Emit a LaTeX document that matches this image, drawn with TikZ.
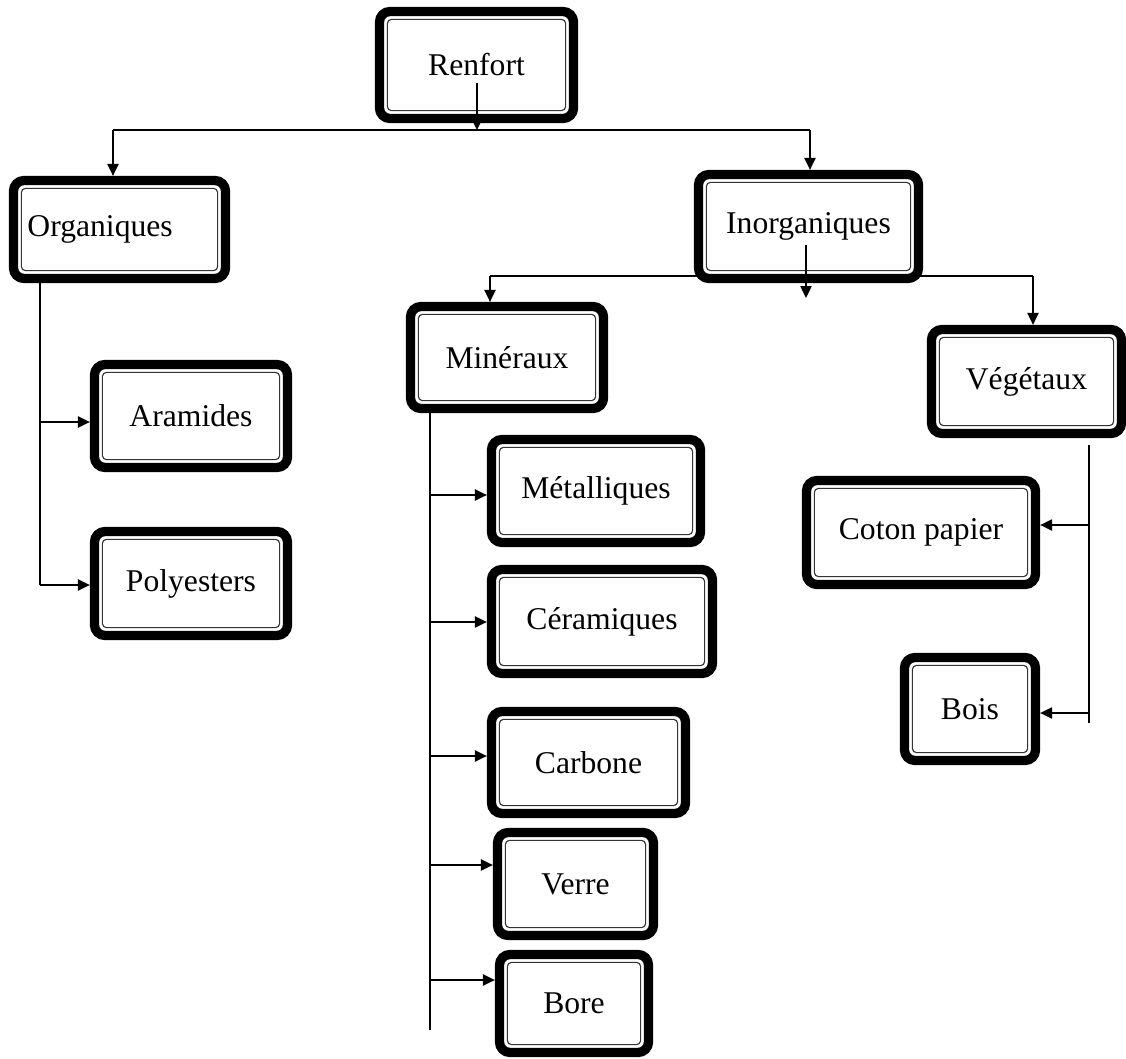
\documentclass[tikz,border=0pt]{standalone}
\usepackage{fontspec}
\setmainfont{Liberation Serif}
\usetikzlibrary{arrows.meta, calc}

\begin{document}
\begin{tikzpicture}[x=0.025cm, y=-0.025cm,
  boite/.style={draw, line width=6.6pt, rounded corners=7.5pt, fill=white, inner sep=0pt, font=\fontsize{22.5}{26}\selectfont},
  filet/.style={draw=black!80, line width=0.8pt, rounded corners=3pt},
  trait/.style={line width=1pt},
  fleche/.style={line width=1pt, -{Triangle[length=8.5pt, width=8pt]}}]
  \useasboundingbox (0,0) rectangle (1126,1059);

  % Niveau 1
  \node[boite, minimum width=4.85cm, minimum height=2.675cm] (renfort) at (476.5,65) {Renfort};

  % Niveau 2
  \node[boite, minimum width=5.3cm, minimum height=2.45cm, text width=4.6cm, align=left] (organiques) at (119.5,229.5) {Organiques};
  \node[boite, minimum width=5.5cm, minimum height=2.6cm] (inorganiques) at (808.5,226.5) {Inorganiques};

  % Organiques
  \node[boite, minimum width=4.825cm, minimum height=2.575cm] (aramides) at (191,416) {Aramides};
  \node[boite, minimum width=4.825cm, minimum height=2.6cm] (polyesters) at (191,583.5) {Polyesters};

  % Inorganiques
  \node[boite, minimum width=4.825cm, minimum height=2.55cm] (mineraux) at (507,357.5) {Minéraux};
  \node[boite, minimum width=4.75cm, minimum height=2.6cm] (vegetaux) at (1026.5,381.5) {Végétaux};

  % Mineraux
  \node[boite, minimum width=5.225cm, minimum height=2.575cm] (metalliques) at (596,491) {Métalliques};
  \node[boite, minimum width=5.525cm, minimum height=2.6cm] (ceramiques) at (602,621.5) {Céramiques};
  \node[boite, minimum width=4.85cm, minimum height=2.55cm] (carbone) at (588.5,762.5) {Carbone};
  \node[boite, minimum width=3.9cm, minimum height=2.575cm] (verre) at (575.5,884) {Verre};
  \node[boite, minimum width=3.725cm, minimum height=2.45cm] (bore) at (574,1003.5) {Bore};

  % Vegetaux
  \node[boite, minimum width=5.725cm, minimum height=2.6cm] (coton) at (921,532.5) {Coton papier};
  \node[boite, minimum width=3.275cm, minimum height=2.575cm] (bois) at (970,709) {Bois};

  % filet interieur des boites
  \foreach \n in {renfort, organiques, inorganiques, aramides, polyesters, mineraux, vegetaux,
                  metalliques, ceramiques, carbone, verre, bore, coton, bois}
    \draw[filet] ($(\n.south west)+(12.5,-12.5)$) rectangle ($(\n.north east)+(-12.5,12.5)$);

  % Liaisons
  \coordinate (busR) at (477,130);
  \coordinate (rG) at (113,130);
  \coordinate (rD) at (810,130);
  \coordinate (iG) at (490,276);
  \coordinate (iD) at (1033,276);
  \coordinate (iBas) at (806,298);
  \coordinate (oTronc) at (40,0);
  \coordinate (mTronc) at (430,0);
  \coordinate (vTronc) at (1089,0);

  \draw[fleche] (busR |- 0,83) -- (busR);
  \draw[trait] (rG) -- (rD);
  \draw[fleche] (rG) -- (rG |- organiques.north);
  \draw[fleche] (rD) -- (rD |- inorganiques.north);

  \draw[fleche] (iBas |- 0,245) -- (iBas);
  \draw[trait] (iG) -- (iD);
  \draw[fleche] (iG) -- (iG |- mineraux.north);
  \draw[fleche] (iD) -- (iD |- vegetaux.north);

  \draw[trait] (oTronc |- organiques.south) -- (oTronc |- 0,585);
  \foreach \n/\y in {aramides/422, polyesters/585}
    \draw[fleche] (oTronc |- 0,\y) -- (\n.west |- 0,\y);

  \draw[trait] (mTronc |- mineraux.south) -- (mTronc |- 0,1030);
  \foreach \n/\y in {metalliques/495, ceramiques/622, carbone/756, verre/865, bore/980}
    \draw[fleche] (mTronc |- 0,\y) -- (\n.west |- 0,\y);

  \draw[trait] (vTronc |- 0,445) -- (vTronc |- 0,723);
  \foreach \n/\y in {coton/525, bois/713}
    \draw[fleche] (vTronc |- 0,\y) -- (\n.east |- 0,\y);
\end{tikzpicture}
\end{document}
